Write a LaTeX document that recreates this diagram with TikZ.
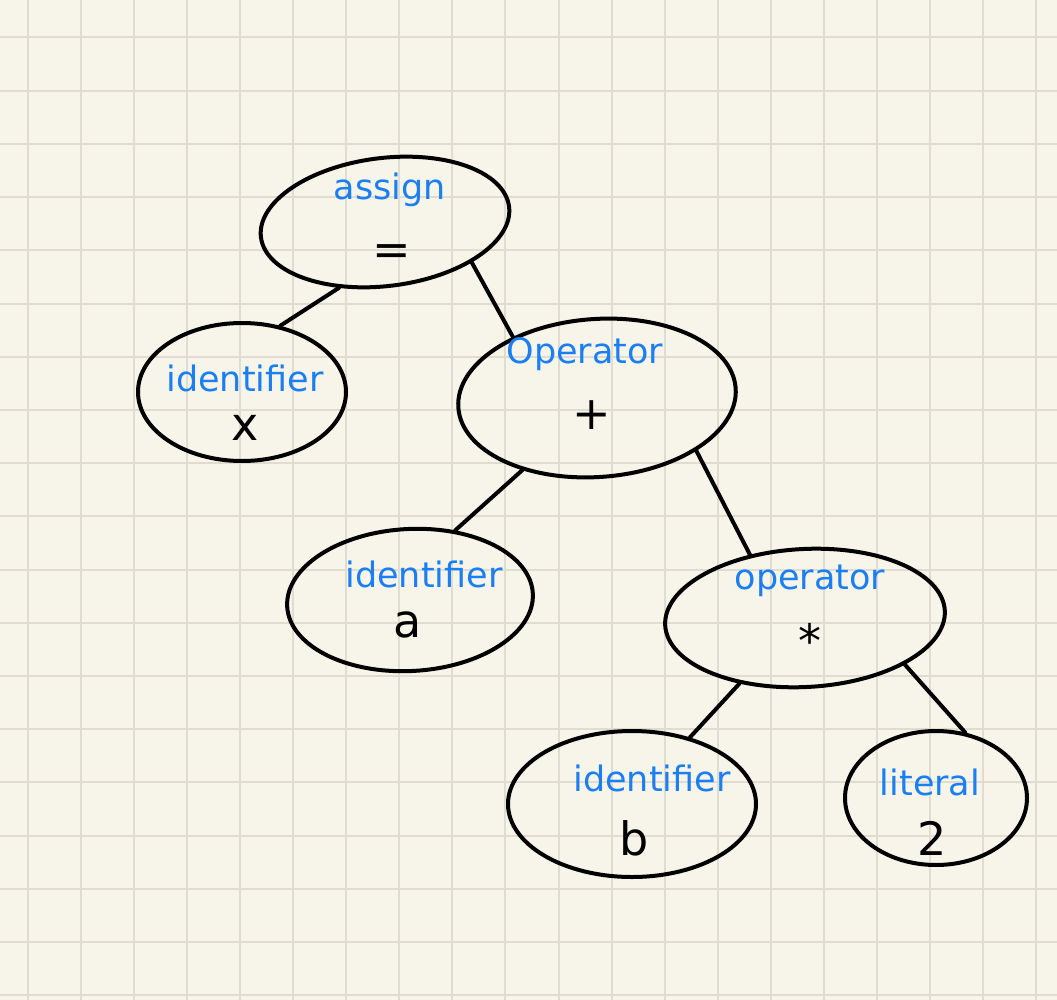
\documentclass[tikz,border=0pt]{standalone}
\usepackage{fontspec}
\setmainfont{DejaVu Sans}
\usetikzlibrary{shapes.geometric}
\definecolor{PaperCream}{RGB}{247,245,234}
\definecolor{GridGray}{RGB}{224,221,208}
\definecolor{InkBlue}{RGB}{26,126,245}
\tikzset{
  astnode/.style={ellipse,draw=black,line width=4,inner sep=0pt},
  kindtext/.style={text=InkBlue,inner sep=0pt,font=\fontsize{35}{38}\selectfont},
  symtext/.style={text=black,inner sep=0pt,font=\fontsize{46}{50}\selectfont},
  astedge/.style={line width=4,line cap=round},
}
\begin{document}
\begin{tikzpicture}[x=1pt,y=-1pt]
      \fill[PaperCream] (0,0) rectangle (1057,1000);
      \useasboundingbox (0,0) rectangle (1057,1000);
      \foreach \k in {0,...,19} \draw[GridGray,line width=2] ({27.5+53.1*\k},0)--({27.5+53.1*\k},1000);
      \foreach \k in {0,...,18} \draw[GridGray,line width=2] (0,{37.5+53.2*\k})--(1057,{37.5+53.2*\k});
      \node[astnode,minimum width=250,minimum height=128,rotate=7] (assign) at (385,222) {};
      \node[astnode,minimum width=208,minimum height=138] (idx) at (242,392) {};
      \node[astnode,minimum width=278,minimum height=158,rotate=4] (plus) at (597,398) {};
      \node[astnode,minimum width=246,minimum height=142,rotate=3] (ida) at (410,600) {};
      \node[astnode,minimum width=280,minimum height=138,rotate=3] (times) at (805,618) {};
      \node[astnode,minimum width=248,minimum height=146] (idb) at (632,804) {};
      \node[astnode,minimum width=182,minimum height=134] (lit) at (936,798) {};
      \node[kindtext] (assignkind) at (390,190) {assign};
      \node[symtext] (assignsym) at (392,255) {=};
      \node[kindtext] (idxkind) at (245,378) {identifier};
      \node[symtext] (idxsym) at (245,428) {x};
      \node[kindtext] (pluskind) at (585,354) {Operator};
      \node[symtext] (plussym) at (592,415) {+};
      \node[kindtext] (idakind) at (424,574) {identifier};
      \node[symtext] (idasym) at (408,625) {a};
      \node[kindtext] (timeskind) at (810,581) {operator};
      \node[symtext] (timessym) at (810,640) {*};
      \node[kindtext] (idbkind) at (652,778) {identifier};
      \node[symtext] (idbsym) at (634,838) {b};
      \node[kindtext] (litkind) at (930,782) {literal};
      \node[symtext] (litsym) at (932,838) {2};
      \draw[astedge] (assign.228)--(idx.60);
      \draw[astedge] (assign.328)--(plus.140);
      \draw[astedge] (plus.220)--(ida.54);
      \draw[astedge] (plus.328)--(times.128);
      \draw[astedge] (times.222)--(idb.49);
      \draw[astedge] (times.332)--(lit.66);
    \end{tikzpicture}
\end{document}
